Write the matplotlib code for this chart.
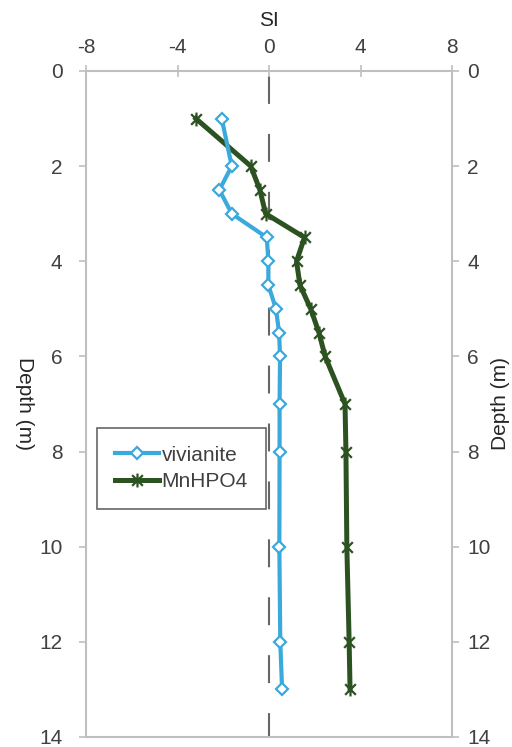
import matplotlib
matplotlib.use("Agg")
import matplotlib.pyplot as plt
from matplotlib.path import Path

plt.rcParams['font.family'] = ['Liberation Sans', 'DejaVu Sans']
plt.rcParams['axes.unicode_minus'] = False

depth = [1, 2, 2.5, 3, 3.5, 4, 4.5, 5, 5.5, 6, 7, 8, 10, 12, 13]
vivianite = [-2.07, -1.63, -2.17, -1.63, -0.1, -0.03, -0.03, 0.3, 0.44, 0.48, 0.46, 0.46, 0.45, 0.49, 0.57]
mnhpo4 = [-3.2, -0.8, -0.4, -0.15, 1.55, 1.2, 1.35, 1.82, 2.18, 2.45, 3.32, 3.36, 3.4, 3.5, 3.54]

xticks = [-8, -4, 0, 4, 8]
yticks = [0, 2, 4, 6, 8, 10, 12, 14]

star = Path([(-1, -1), (1, 1), (-1, 1), (1, -1), (0, -1.3), (0, 1.3)],
            [Path.MOVETO, Path.LINETO, Path.MOVETO, Path.LINETO, Path.MOVETO, Path.LINETO])

fig = plt.figure(figsize=(5.12, 7.47), dpi=100)
ax = fig.add_axes([0.168, 0.0134, 0.715, 0.8916])

ax.plot([0, 0], [0, 14], color='#666666', lw=1.5,
        linestyle=(25.4, (13.4, 14.4)), zorder=1)

ax.plot(vivianite, depth, color='#3AA9DC', lw=3, marker='D', ms=6.5,
        mfc='white', mec='#3AA9DC', mew=1.6, label='vivianite', zorder=3)
ax.plot(mnhpo4, depth, color='#2D5222', lw=3.6, marker=star, ms=10,
        mfc='none', mec='#2D5222', mew=1.6, label='MnHPO4', zorder=2)

ax.set_xlim(-8, 8)
ax.set_ylim(14, 0)
ax.set_xticks(xticks)
ax.set_yticks(yticks)
ax.xaxis.tick_top()
ax.xaxis.set_label_position('top')
ax.set_xlabel('SI', fontsize=15, color='#262626', labelpad=9)
ax.set_ylabel('Depth (m)', fontsize=15, color='#262626', rotation=-90, va='center', ha='center')
ax.yaxis.set_label_coords(-0.167, 0.5)

for s in ax.spines.values():
    s.set_color('#BFBFBF')
    s.set_linewidth(1.5)

ax.tick_params(axis='both', colors='#BFBFBF', labelcolor='#404040', labelsize=15,
               length=5, width=1.2)
ax.tick_params(axis='x', pad=6, direction='inout', length=8)
ax.tick_params(axis='y', pad=12)

ax2 = ax.twinx()
ax2.set_ylim(14, 0)
ax2.set_yticks(yticks)
ax2.tick_params(axis='y', colors='#BFBFBF', labelcolor='#404040', labelsize=15,
                length=5, width=1.2, pad=6)
for s in ax2.spines.values():
    s.set_visible(False)
ax2.set_ylabel('Depth (m)', fontsize=15, color='#262626', rotation=90, va='center', ha='center')
ax2.yaxis.set_label_coords(1.131, 0.5)

leg = ax.legend(loc='upper left', bbox_to_anchor=(0.03, 0.464), fontsize=15,
                frameon=True, fancybox=False, handlelength=2.15, handletextpad=0.1,
                borderpad=0.85, labelspacing=0.35, borderaxespad=0)
leg.get_frame().set_edgecolor('#404040')
leg.get_frame().set_linewidth(1.2)
for t in leg.get_texts():
    t.set_color('#404040')

fig.savefig('out.png', dpi=100)
